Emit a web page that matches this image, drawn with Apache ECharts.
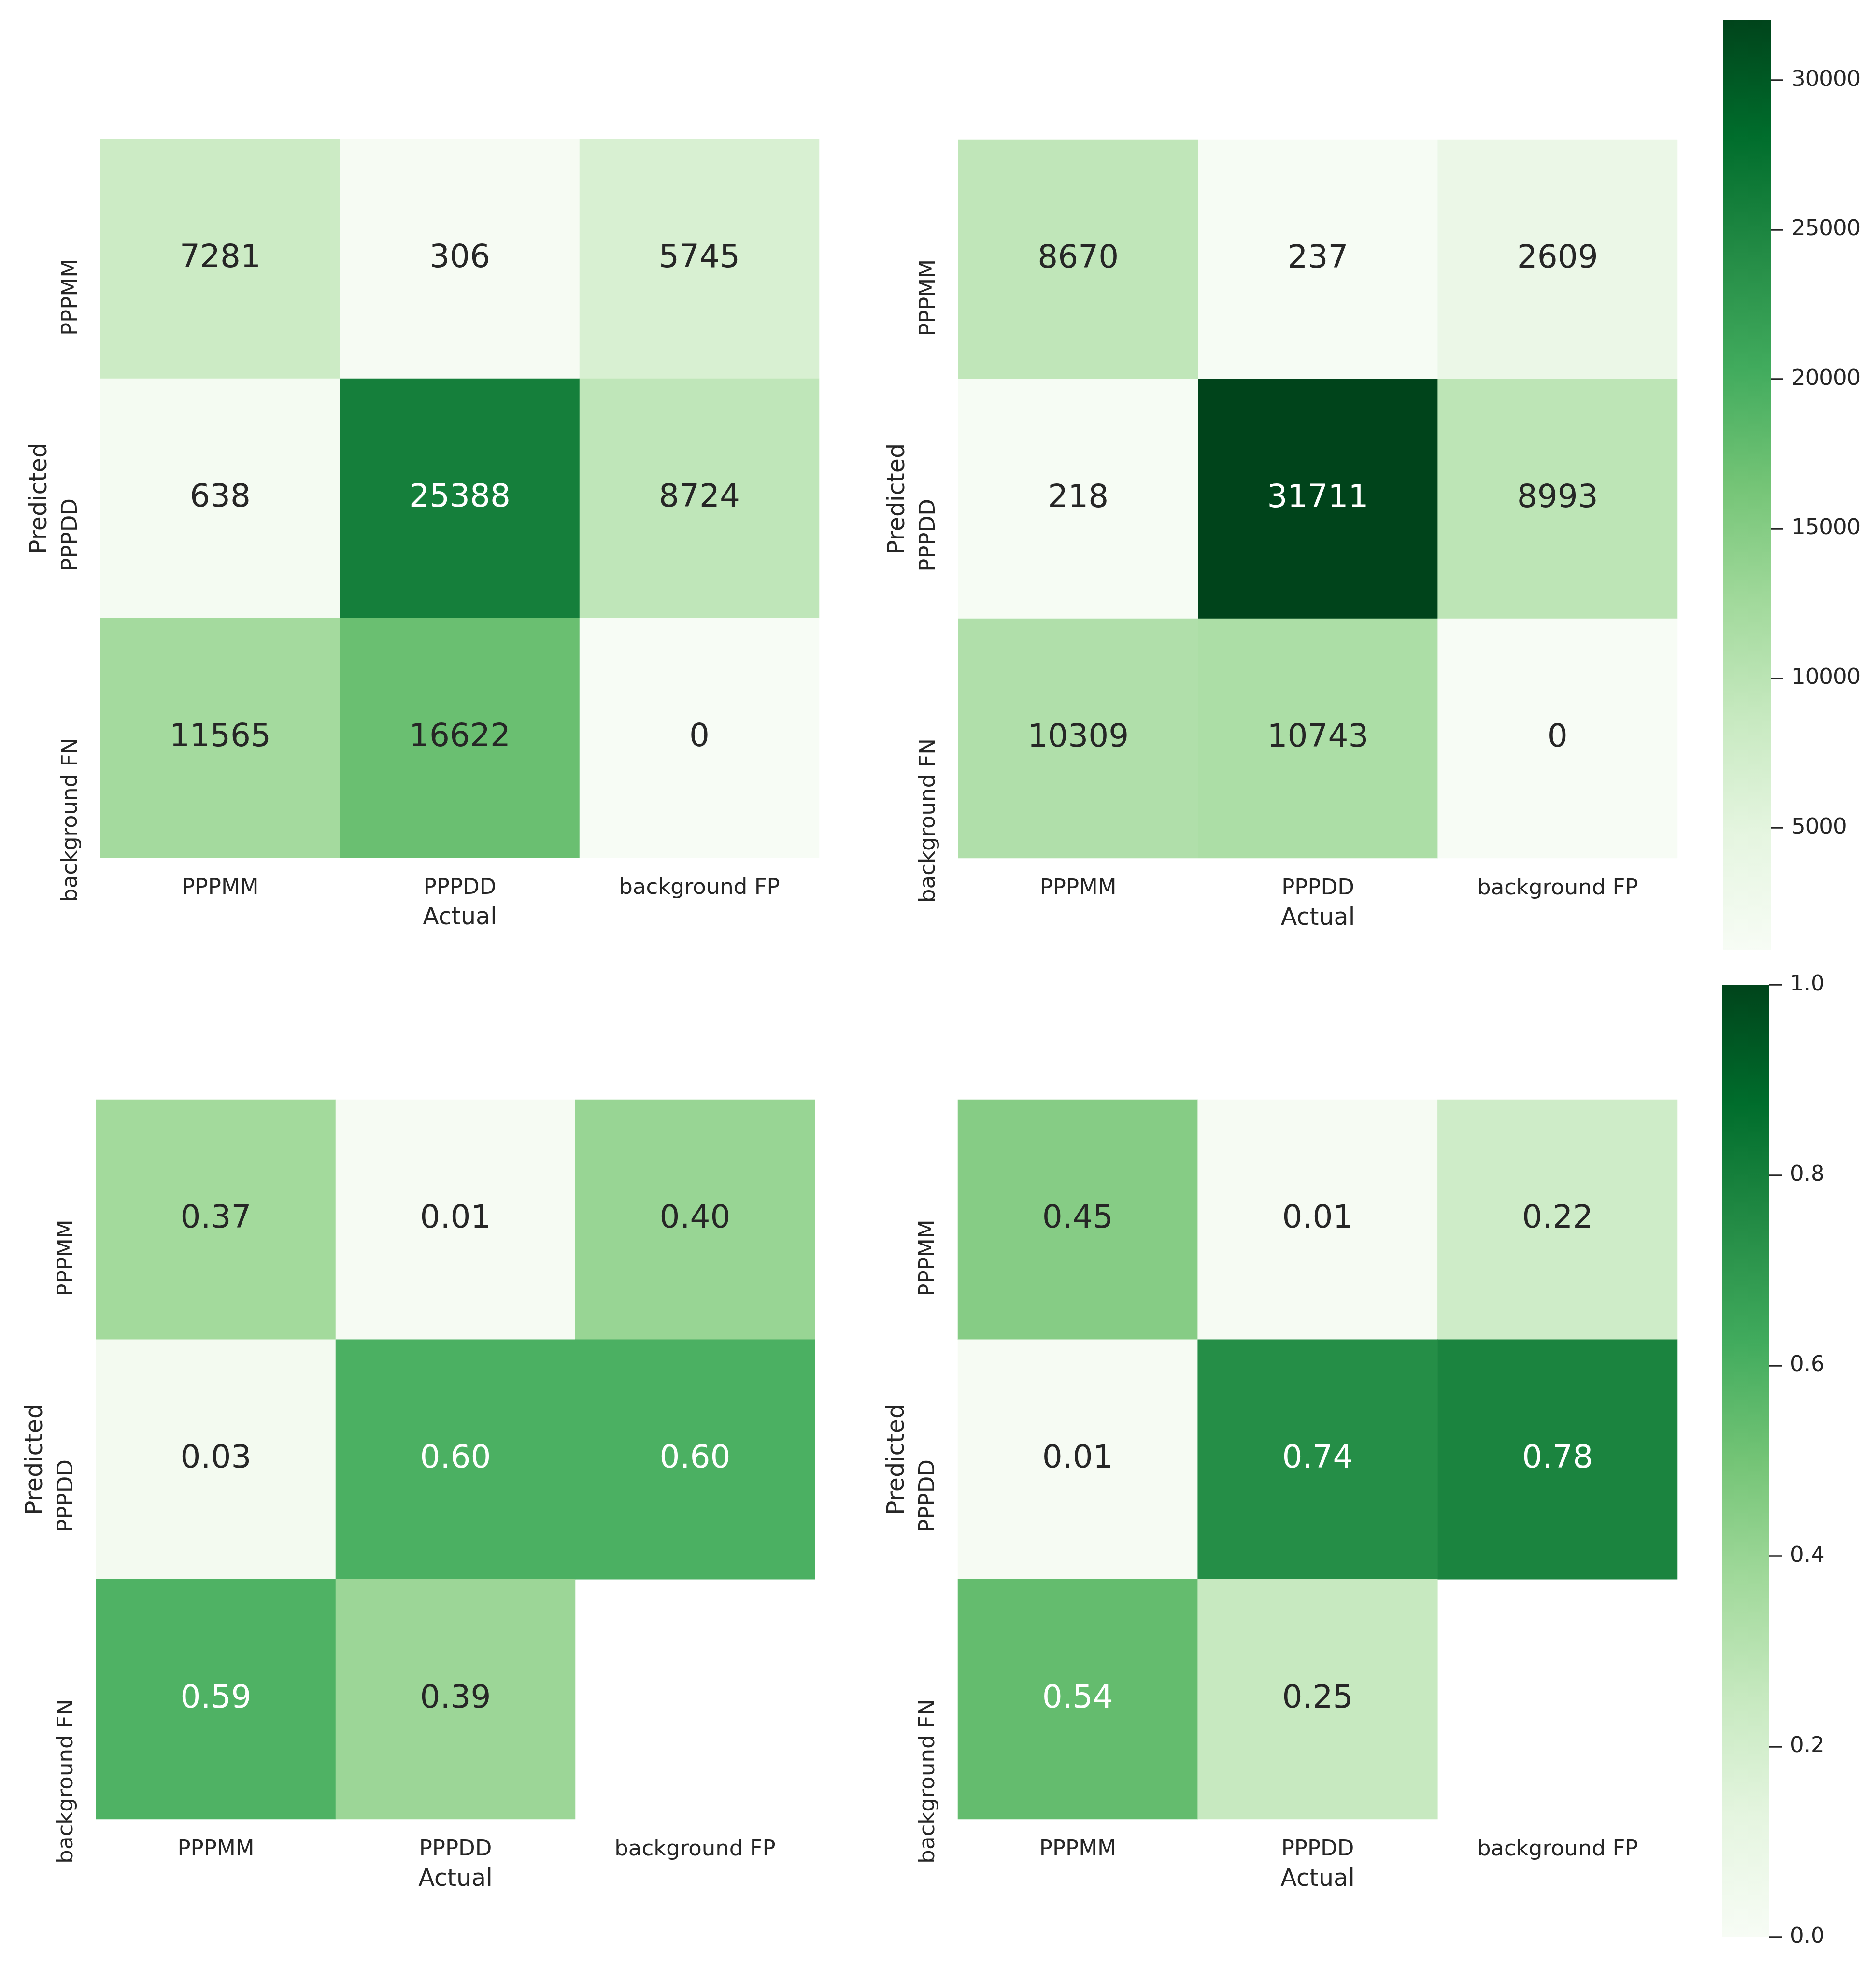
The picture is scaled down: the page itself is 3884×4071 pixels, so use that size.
<!DOCTYPE html>
<html>
<head>
<meta charset="utf-8">
<title>confusion matrices</title>
<script src="https://cdn.jsdelivr.net/npm/echarts@6/dist/echarts.min.js"></script>
<style>
    html, body { margin: 0; padding: 0; background: #ffffff; }
    #chart { width: 3884px; height: 4071px; }
</style>
</head>
<body>
<div id="chart"></div>
<script>
// categories
const actualLabels = ['PPPMM', 'PPPDD', 'background FP'];
const predictedLabels = ['PPPMM', 'PPPDD', 'background FN'];

// rows = predicted, cols = actual
const countsLeft = [
    [7281, 306, 5745],
    [638, 25388, 8724],
    [11565, 16622, 0]
];
const countsRight = [
    [8670, 237, 2609],
    [218, 31711, 8993],
    [10309, 10743, 0]
];
const normLeft = [
    [0.37, 0.01, 0.40],
    [0.03, 0.60, 0.60],
    [0.59, 0.39, null]
];
const normRight = [
    [0.45, 0.01, 0.22],
    [0.01, 0.74, 0.78],
    [0.54, 0.25, null]
];

// colour scales and colorbar axes
const countColorRange = [0, 31711];
const countAxisRange = [911, 32020];
const countTicks = [5000, 10000, 15000, 20000, 25000, 30000];
const normColorRange = [0, 1];
const normAxisRange = [0, 1];
const normTicks = [0, 0.2, 0.4, 0.6, 0.8, 1.0];

const greens = ['#f7fcf5', '#e5f5e0', '#c7e9c0', '#a1d99b', '#74c476', '#41ab5d', '#238b45', '#006d2c', '#00441b'];
const font = 'DejaVu Sans';
const ink = '#262626';

const panels = [
    { left: 208, top: 288, width: 1488, height: 1488 },
    { left: 1984, top: 289, width: 1489, height: 1488 },
    { left: 199, top: 2277, width: 1488, height: 1490 },
    { left: 1983, top: 2277, width: 1490, height: 1490 }
];

function buildData(matrix, range) {
    const out = [];
    matrix.forEach((row, r) => {
        row.forEach((v, c) => {
            if (v === null) return;
            const t = (v - range[0]) / (range[1] - range[0]);
            out.push({
                value: [c, r, v],
                label: { color: t > 0.53 ? '#ffffff' : ink }
            });
        });
    });
    return out;
}

const grids = [];
const xAxes = [];
const yAxes = [];
const series = [];
const matrices = [countsLeft, countsRight, normLeft, normRight];

panels.forEach((p, i) => {
    grids.push({ left: p.left, top: p.top, width: p.width, height: p.height });
    xAxes.push({
        type: 'category',
        gridIndex: i,
        data: actualLabels,
        name: 'Actual',
        nameLocation: 'middle',
        nameGap: 101,
        nameTextStyle: { fontSize: 49, color: ink, fontFamily: font },
        axisLine: { show: false },
        axisTick: { show: false },
        splitLine: { show: false },
        axisLabel: { fontSize: 45, color: ink, fontFamily: font, margin: 41 }
    });
    yAxes.push({
        type: 'category',
        gridIndex: i,
        data: predictedLabels,
        inverse: true,
        name: 'Predicted',
        nameLocation: 'middle',
        nameGap: 100,
        nameRotate: 90,
        nameTextStyle: { fontSize: 49, color: ink, fontFamily: font },
        axisLine: { show: false },
        axisTick: { show: false },
        splitLine: { show: false },
        axisLabel: {
            fontSize: 45, color: ink, fontFamily: font,
            rotate: 90, margin: 38,
            align: 'right', verticalAlign: 'bottom'
        }
    });
    const isCount = i < 2;
    series.push({
        type: 'heatmap',
        xAxisIndex: i,
        yAxisIndex: i,
        data: buildData(matrices[i], isCount ? countColorRange : normColorRange),
        label: {
            show: true,
            fontSize: 66,
            fontFamily: font,
            formatter: (p) => isCount ? String(p.value[2]) : p.value[2].toFixed(2)
        },
        emphasis: { disabled: true }
    });
});

// colorbars: gradient rect + tick axis on the right
const bars = [
    { left: 3567, top: 41, width: 99, height: 1926, range: countAxisRange, ticks: countTicks, fmt: (v) => String(v) },
    { left: 3565, top: 2039, width: 98, height: 1972, range: normAxisRange, ticks: normTicks, fmt: (v) => Number(v).toFixed(1) }
];
const gradientStops = greens.slice().reverse().map((c, k) => ({ offset: k / (greens.length - 1), color: c }));
const graphics = [];
bars.forEach((b, k) => {
    const gi = 4 + k;
    grids.push({ left: b.left, top: b.top, width: b.width, height: b.height });
    xAxes.push({ type: 'category', gridIndex: gi, show: false, data: [''] });
    yAxes.push({
        type: 'value',
        gridIndex: gi,
        position: 'right',
        min: b.range[0],
        max: b.range[1],
        axisLine: { show: false, onZero: false },
        splitLine: { show: false },
        axisTick: {
            show: true,
            inside: false,
            length: 26,
            lineStyle: { color: ink, width: 3.5 },
            customValues: b.ticks
        },
        axisLabel: {
            fontSize: 45,
            color: ink,
            fontFamily: font,
            margin: 43,
            customValues: b.ticks,
            formatter: b.fmt
        }
    });
    graphics.push({
        type: 'rect',
        left: b.left,
        top: b.top,
        z: -1,
        silent: true,
        shape: { width: b.width, height: b.height },
        style: { fill: new echarts.graphic.LinearGradient(0, 0, 0, 1, gradientStops) }
    });
});

const chart = echarts.init(document.getElementById('chart'));
chart.setOption({
    backgroundColor: '#ffffff',
    animation: false,
    textStyle: { fontFamily: font },
    grid: grids,
    xAxis: xAxes,
    yAxis: yAxes,
    graphic: graphics,
    visualMap: [
        {
            type: 'continuous',
            show: false,
            seriesIndex: [0, 1],
            min: countColorRange[0],
            max: countColorRange[1],
            inRange: { color: greens }
        },
        {
            type: 'continuous',
            show: false,
            seriesIndex: [2, 3],
            min: normColorRange[0],
            max: normColorRange[1],
            inRange: { color: greens }
        }
    ],
    series: series
});
</script>
</body>
</html>
